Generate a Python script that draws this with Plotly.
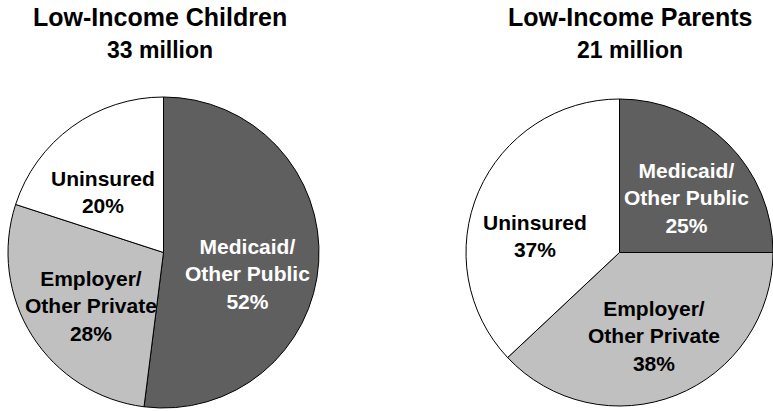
import math
import plotly.graph_objects as go

# ---- data ----
categories = ["Medicaid/<br>Other Public", "Employer/<br>Other Private", "Uninsured"]
children_pct = [52, 28, 20]
parents_pct = [25, 38, 37]
titles = ["Low-Income Children", "Low-Income Parents"]
subtitles = ["33 million", "21 million"]

# ---- styles ----
slice_colors = ["#5f5f5f", "#c0c0c0", "#ffffff"]
text_colors = ["#ffffff", "#000000", "#000000"]
FONT = "Arial, Liberation Sans, sans-serif"
W, H = 773, 411
# label placement: radius fraction and small angular nudge (deg) per slice, per pie
label_r = [[0.56, 0.58, 0.55], [0.56, 0.59, 0.56]]
label_nudge = [[11, -4, -9], [6, -1, -12]]

fig = go.Figure()

domains = [
    dict(x=[8 / W, 319 / W], y=[3 / H, 314 / H]),
    dict(x=[466 / W, 1.0], y=[3 / H, 314 / H]),
]

for k, (vals, dom) in enumerate(zip([children_pct, parents_pct], domains)):
    fig.add_trace(go.Pie(
        labels=categories,
        values=vals,
        sort=False,
        direction="clockwise",
        rotation=0,
        domain=dom,
        marker=dict(colors=slice_colors, line=dict(color="#000000", width=1)),
        textinfo="none",
        hoverinfo="label+value",
        showlegend=False,
    ))
    # pie geometry in pixels (as plotly computes it from the domain)
    dw = (dom["x"][1] - dom["x"][0]) * W
    dh = (dom["y"][1] - dom["y"][0]) * H
    r = min(dw, dh) / 2
    cx = (dom["x"][0] + dom["x"][1]) / 2 * W
    cy = (1 - (dom["y"][0] + dom["y"][1]) / 2) * H
    total = sum(vals)
    start = 0.0
    for i, (lab, v) in enumerate(zip(categories, vals)):
        span = v / total * 360
        mid = math.radians(start + span / 2 + label_nudge[k][i])
        start += span
        px = cx + label_r[k][i] * r * math.sin(mid)
        py = cy - label_r[k][i] * r * math.cos(mid)
        fig.add_annotation(
            x=px / W, y=1 - py / H, xref="paper", yref="paper",
            xanchor="center", yanchor="middle", showarrow=False,
            text=f"<b>{lab}<br>{v}%</b>",
            font=dict(family=FONT, size=21, color=text_colors[i]),
        )

title_x = [160 / W, 630 / W]
for t, s, x in zip(titles, subtitles, title_x):
    fig.add_annotation(
        x=x, y=1 - 1 / H, xref="paper", yref="paper", xanchor="center", yanchor="top",
        text=f"<b>{t}</b>", showarrow=False,
        font=dict(family=FONT, size=25, color="#000000"),
    )
    fig.add_annotation(
        x=x, y=1 - 35 / H, xref="paper", yref="paper", xanchor="center", yanchor="top",
        text=f"<b>{s}</b>", showarrow=False,
        font=dict(family=FONT, size=23, color="#000000"),
    )

fig.update_layout(
    width=W, height=H,
    margin=dict(l=0, r=0, t=0, b=0),
    paper_bgcolor="#ffffff", plot_bgcolor="#ffffff",
)

fig.write_html("out.html")
